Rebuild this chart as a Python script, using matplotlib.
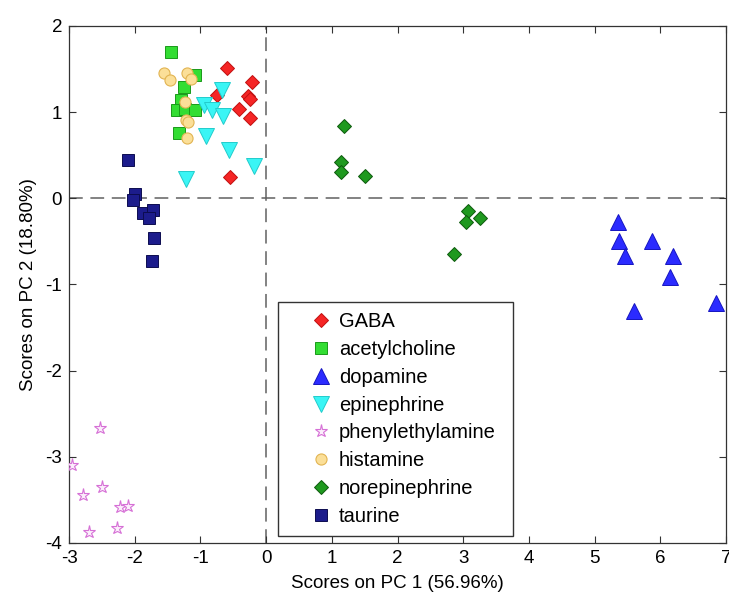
import matplotlib
matplotlib.use("Agg")
import matplotlib.pyplot as plt
import matplotlib.patches as patches

plt.rcParams['font.family'] = ['Liberation Sans', 'DejaVu Sans']
plt.rcParams['axes.unicode_minus'] = False

# PCA scores (PC1, PC2) per compound
gaba_x = [-0.60, -0.21, -0.75, -0.27, -0.25, -0.42, -0.25, -0.55]
gaba_y = [1.51, 1.35, 1.20, 1.19, 1.15, 1.04, 0.93, 0.25]

ach_x = [-1.45, -1.09, -1.25, -1.30, -1.36, -1.23, -1.09, -1.32]
ach_y = [1.70, 1.43, 1.29, 1.14, 1.02, 1.04, 1.03, 0.76]

dopa_x = [5.35, 5.37, 5.88, 5.47, 6.20, 6.15, 5.60, 6.85]
dopa_y = [-0.28, -0.49, -0.49, -0.67, -0.67, -0.91, -1.31, -1.21]

epi_x = [-0.67, -0.95, -0.83, -0.66, -0.92, -0.57, -0.18, -1.22]
epi_y = [1.26, 1.08, 1.03, 0.96, 0.72, 0.56, 0.37, 0.22]

pea_x = [-2.53, -2.96, -2.50, -2.78, -2.23, -2.10, -2.69, -2.27]
pea_y = [-2.66, -3.10, -3.35, -3.44, -3.58, -3.57, -3.87, -3.83]

hist_x = [-1.55, -1.47, -1.21, -1.15, -1.24, -1.22, -1.19, -1.20]
hist_y = [1.46, 1.37, 1.46, 1.39, 1.12, 0.91, 0.88, 0.70]

norepi_x = [1.19, 1.14, 1.14, 1.50, 3.08, 3.04, 3.25, 2.86]
norepi_y = [0.84, 0.42, 0.30, 0.26, -0.15, -0.27, -0.23, -0.65]

taur_x = [-2.10, -1.99, -2.03, -1.88, -1.72, -1.78, -1.71, -1.74]
taur_y = [0.44, 0.05, -0.02, -0.17, -0.14, -0.23, -0.46, -0.73]

fig = plt.figure(figsize=(7.29, 5.92), dpi=100)
ax = fig.add_axes([0.0947, 0.0828, 0.9012, 0.8733])

# zero lines
ax.axhline(0, color='#606060', lw=1.1, ls=(0, (9, 5)), zorder=1)
ax.axvline(0, color='#606060', lw=1.1, ls=(0, (9, 5)), zorder=1)

ax.plot(gaba_x, gaba_y, 'D', ms=7, mfc='#f52525', mec='#c01010', mew=0.7, label='GABA', zorder=3)
ax.plot(ach_x, ach_y, 's', ms=8, mfc='#33dd33', mec='#1a9a1a', mew=0.7, label='acetylcholine', zorder=3)
ax.plot(dopa_x, dopa_y, '^', ms=11, mfc='#2b2bff', mec='#1515c0', mew=0.7, label='dopamine', zorder=3)
ax.plot(epi_x, epi_y, 'v', ms=11, mfc='#3af5f5', mec='#22cccc', mew=0.7, label='epinephrine', zorder=3)
ax.plot(pea_x, pea_y, '*', ms=9.5, mfc='#fbeefb', mec='#d670d6', mew=0.8, label='phenylethylamine', zorder=3)
ax.plot(hist_x, hist_y, 'o', ms=8, mfc='#fbdf98', mec='#e2b452', mew=0.8, label='histamine', zorder=3)
ax.plot(norepi_x, norepi_y, 'D', ms=7, mfc='#1f991f', mec='#0d5a0d', mew=0.7, label='norepinephrine', zorder=3)
ax.plot(taur_x, taur_y, 's', ms=8, mfc='#1c1c8c', mec='#0c0c50', mew=0.7, label='taurine', zorder=3)

ax.set_xlim(-3, 7)
ax.set_ylim(-4, 2)
ax.set_xticks(range(-3, 8))
ax.set_yticks(range(-4, 3))
ax.tick_params(direction='in', length=5, width=0.8, top=True, right=True,
               labelsize=13.5, pad=5, color='#333333')
for sp in ax.spines.values():
    sp.set_color('#333333')
    sp.set_linewidth(0.9)

ax.set_xlabel('Scores on PC 1 (56.96%)', fontsize=13.5, labelpad=6)
ax.set_ylabel('Scores on PC 2 (18.80%)', fontsize=13.5, labelpad=6)

# legend box drawn separately so it can be padded like the original
box = patches.Rectangle((0.318, 0.0135), 0.358, 0.4525, transform=ax.transAxes,
                        fc='white', ec='#333333', lw=1.0, zorder=4)
ax.add_patch(box)
leg = ax.legend(loc='upper left', bbox_to_anchor=(0.365, 0.4468), frameon=False,
                fontsize=14.5, numpoints=1, handlelength=1.2, handletextpad=0.3,
                borderpad=0, borderaxespad=0, labelspacing=0.44)
leg.set_zorder(5)

fig.savefig('out.png', dpi=100)
